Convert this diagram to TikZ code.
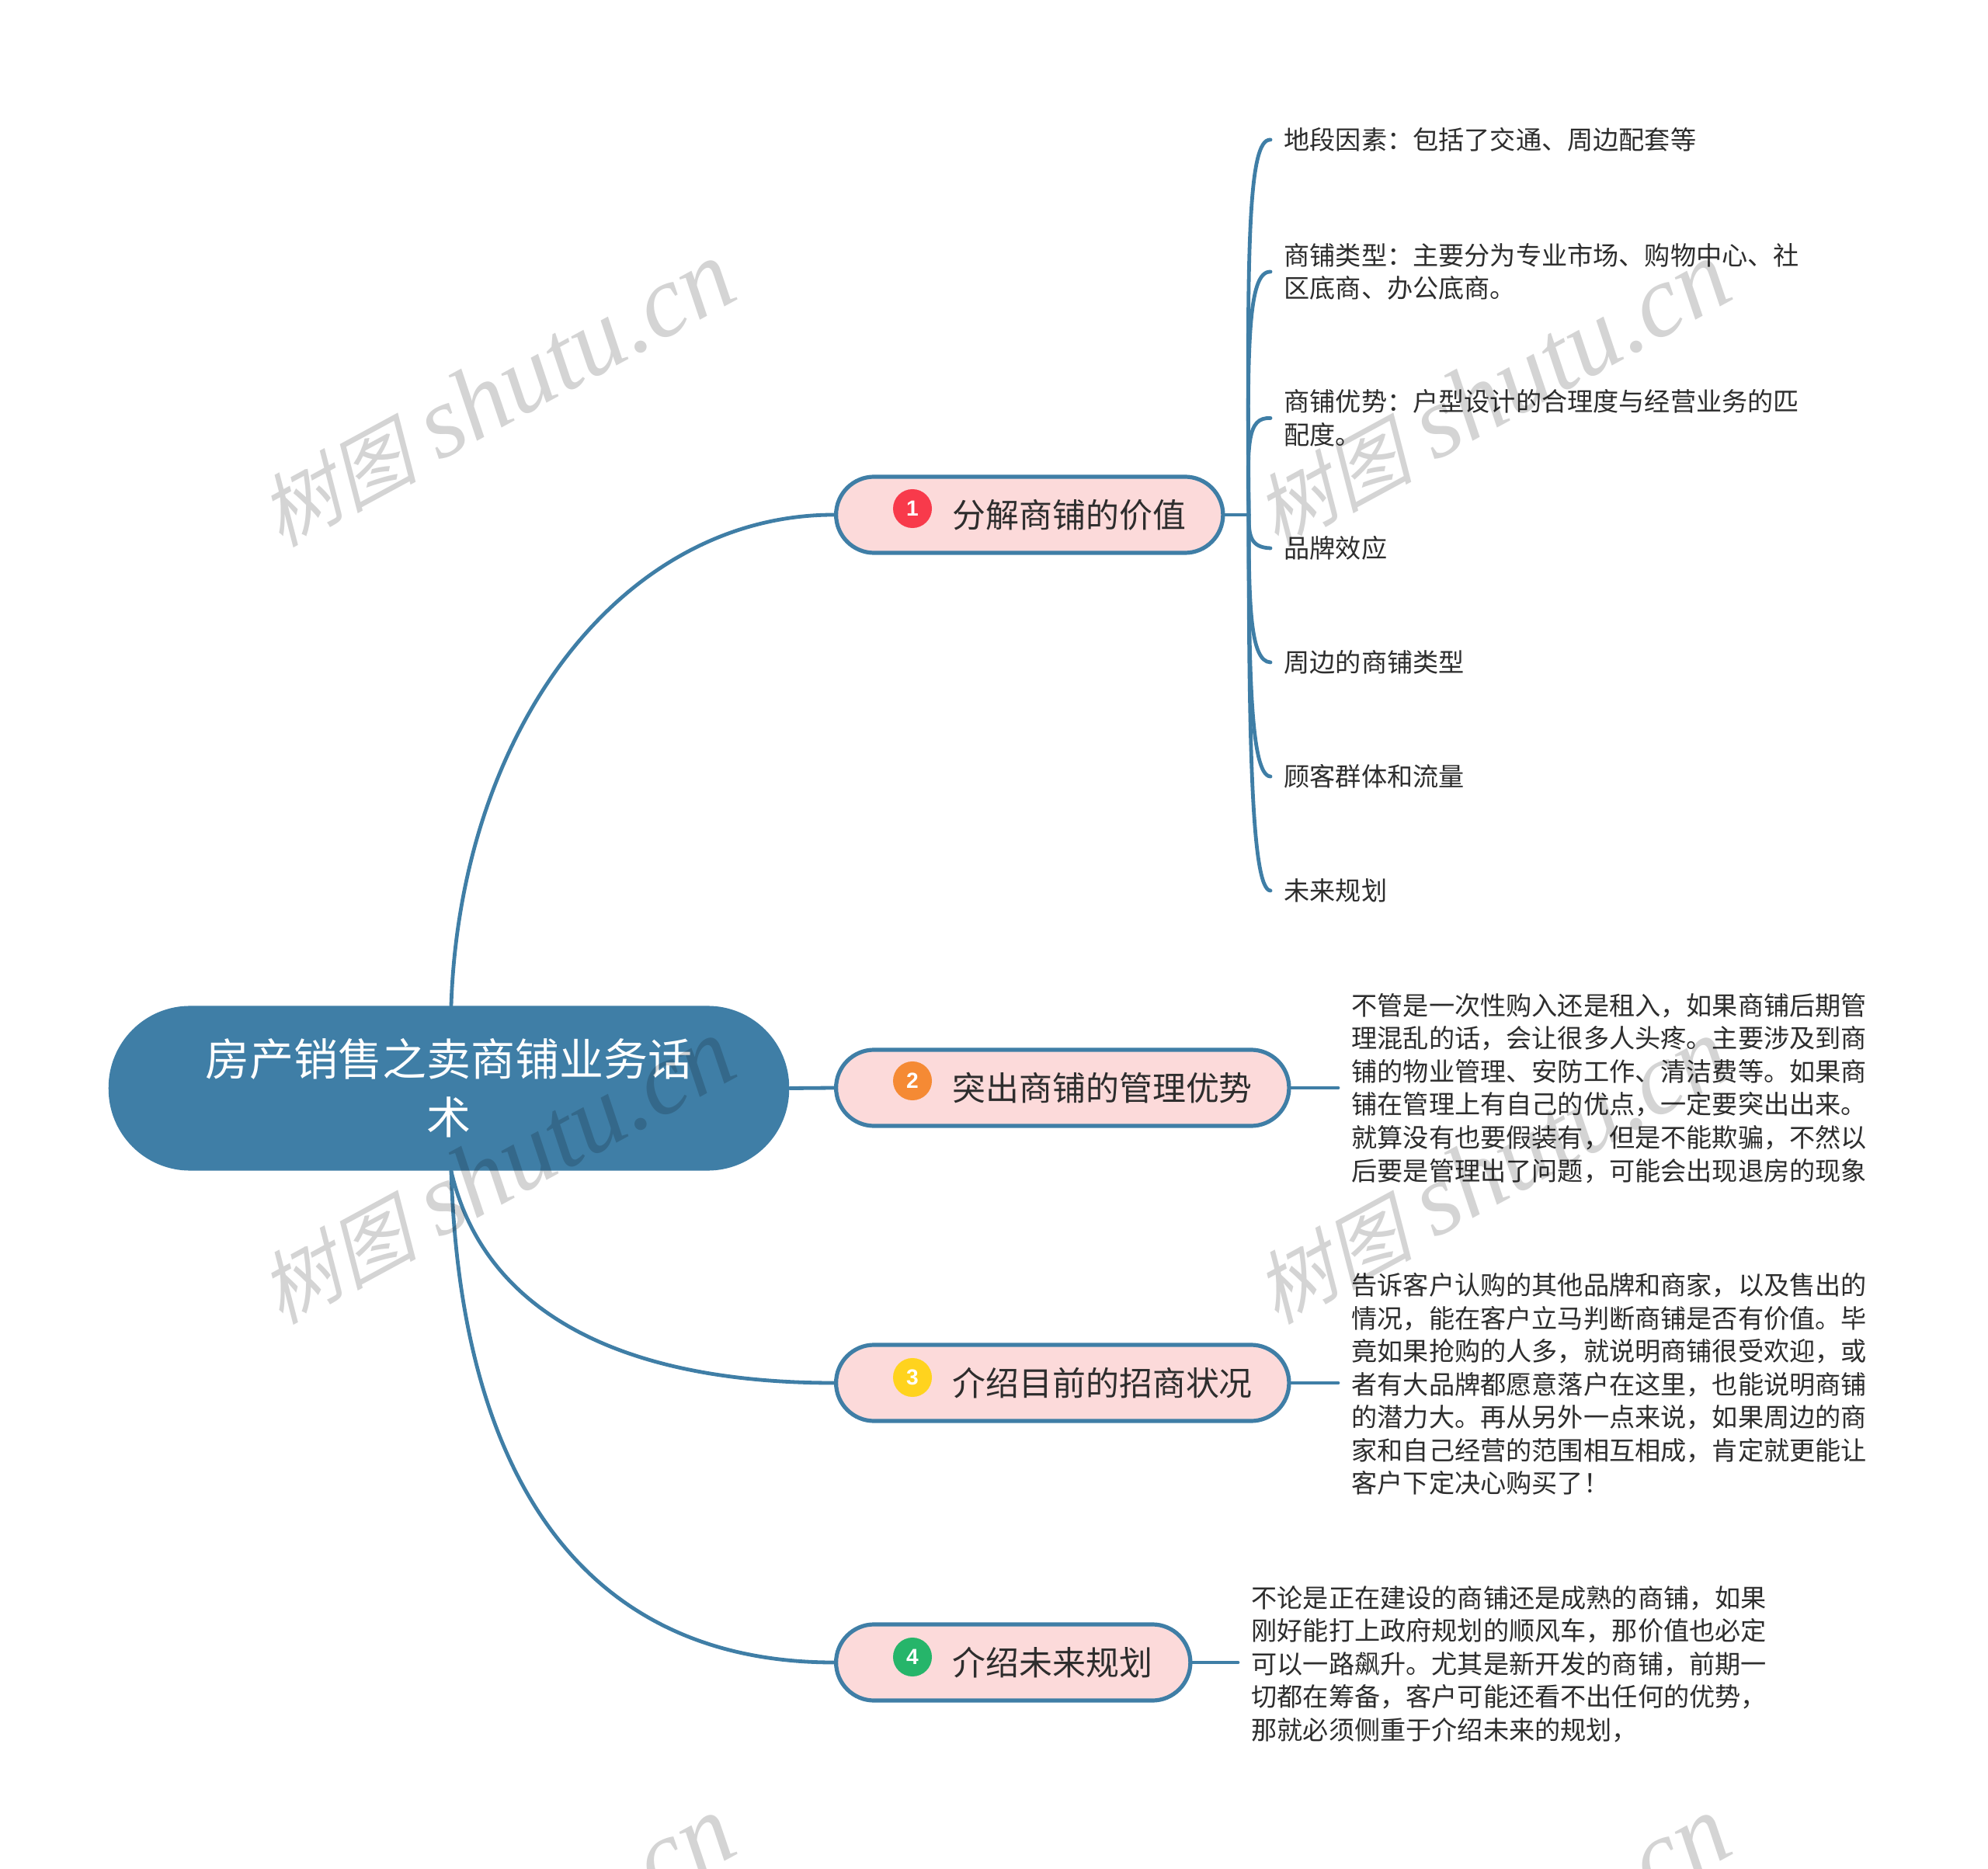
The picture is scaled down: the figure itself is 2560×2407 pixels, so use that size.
\documentclass[tikz,border=0pt]{standalone}
\usepackage{fontspec}
\newfontfamily\cjk{Noto Sans CJK SC}
\newfontfamily\wmcjk[FakeSlant=0.25]{Noto Sans CJK SC}
\newfontfamily\wmlat{Liberation Serif}[ItalicFont={Liberation Serif Italic}]
\newfontfamily\digitfont{Liberation Sans}
\definecolor{mainblue}{RGB}{63,126,166}
\definecolor{pinkfill}{RGB}{252,218,218}
\definecolor{inkdark}{RGB}{45,45,45}
\tikzset{
  con/.style={draw=mainblue,line width=0.048cm,line cap=round},
  rootbox/.style={rectangle,rounded corners=1.05cm,fill=mainblue,text=white,align=center,inner sep=0pt,
    minimum width=8.76cm,minimum height=2.12cm,font=\cjk\fontsize{16.2}{21.3}\selectfont},
  branchbox/.style={rectangle,rounded corners=0.49cm,fill=pinkfill,draw=mainblue,line width=0.052cm,
    text=inkdark,align=left,inner xsep=0pt,inner ysep=0pt,minimum height=0.98cm,anchor=west,
    font=\cjk\fontsize{12.2}{15}\selectfont},
  leaftext/.style={anchor=west,text=inkdark,align=left,inner xsep=4.8pt,inner ysep=0pt,
    font=\cjk\fontsize{9.43}{12.09}\selectfont},
  iconball/.style={circle,inner sep=0pt,minimum size=0.5cm,text=white,
    font=\digitfont\bfseries\fontsize{8}{8}\selectfont},
  wmark/.style={anchor=base west,rotate=28.5,inner sep=0pt,text=black,text opacity=0.17}
}
\newcommand{\wmtext}{{\wmcjk\fontsize{29}{29}\selectfont 树图}\hspace{8pt}{\wmlat\itshape\fontsize{37.5}{37.5}\selectfont shutu.cn}}
\begin{document}
\begin{tikzpicture}[x=0.01cm,y=-0.01cm]
\useasboundingbox (0,0) rectangle (2560,2407);
\fill[white] (0,0) rectangle (2560,2407);

% root
\node[rootbox] (root) at (578,1401.5) {房产销售之卖商铺业务话\\术};

% branches
\node[branchbox,text width=4.98cm] (b1) at (1074,663) {\hspace*{1.5cm}分解商铺的价值};
\node[branchbox,text width=5.83cm] (b2) at (1074,1401) {\hspace*{1.5cm}突出商铺的管理优势};
\node[branchbox,text width=5.83cm] (b3) at (1074,1781) {\hspace*{1.5cm}介绍目前的招商状况};
\node[branchbox,text width=4.56cm] (b4) at (1074,2141) {\hspace*{1.5cm}介绍未来规划};

% icons
\node[iconball,fill={rgb,255:red,248;green,58;blue,75}] (i1) at (1175,655) {1};
\node[iconball,fill={rgb,255:red,245;green,138;blue,52}] (i2) at (1175,1392) {2};
\node[iconball,fill={rgb,255:red,255;green,211;blue,30}] (i3) at (1175,1774) {3};
\node[iconball,fill={rgb,255:red,38;green,181;blue,106}] (i4) at (1175,2134) {4};

% leaves
\node[leaftext] (l1) at (1636,180) {地段因素：包括了交通、周边配套等};
\node[leaftext] (l2) at (1636,350) {商铺类型：主要分为专业市场、购物中心、社\\区底商、办公底商。};
\node[leaftext] (l3) at (1636,538.5) {商铺优势：户型设计的合理度与经营业务的匹\\配度。};
\node[leaftext] (l4) at (1636,706) {品牌效应};
\node[leaftext] (l5) at (1636,853) {周边的商铺类型};
\node[leaftext] (l6) at (1636,1000) {顾客群体和流量};
\node[leaftext] (l7) at (1636,1147) {未来规划};

% notes
\node[leaftext] (n2) at (1723,1401.5) {不管是一次性购入还是租入，如果商铺后期管\\理混乱的话，会让很多人头疼。主要涉及到商\\铺的物业管理、安防工作、清洁费等。如果商\\铺在管理上有自己的优点，一定要突出出来。\\就算没有也要假装有，但是不能欺骗，不然以\\后要是管理出了问题，可能会出现退房的现象};
\node[leaftext] (n3) at (1723,1782.5) {告诉客户认购的其他品牌和商家，以及售出的\\情况，能在客户立马判断商铺是否有价值。毕\\竟如果抢购的人多，就说明商铺很受欢迎，或\\者有大品牌都愿意落户在这里，也能说明商铺\\的潜力大。再从另外一点来说，如果周边的商\\家和自己经营的范围相互相成，肯定就更能让\\客户下定决心购买了！};
\node[leaftext] (n4) at (1594,2143) {不论是正在建设的商铺还是成熟的商铺，如果\\刚好能打上政府规划的顺风车，那价值也必定\\可以一路飙升。尤其是新开发的商铺，前期一\\切都在筹备，客户可能还看不出任何的优势，\\那就必须侧重于介绍未来的规划，};

% connectors root to branches
\coordinate (rn) at ([xshift=0.03cm]root.north);
\coordinate (rs) at ([xshift=0.03cm]root.south);
\draw[con] (rn) .. controls (593,940) and (800,663) .. (b1.west);
\draw[con] (root.east) -- (b2.west);
\draw[con] (rs) .. controls (623,1690) and (800,1781) .. (b3.west);
\draw[con] (rs) .. controls (593,1900) and (750,2141) .. (b4.west);

% branch to leaves
\coordinate (hub) at (1608,663);
\draw[con] (b1.east) -- (hub);
\draw[con] (hub) .. controls (1606,330) and (1606,178) .. (l1.west);
\draw[con] (hub) .. controls (1606,450) and (1606,349) .. (l2.west);
\draw[con] (hub) .. controls (1606,570) and (1606,537) .. (l3.west);
\draw[con] (hub) .. controls (1608,690) and (1610,705) .. (l4.west);
\draw[con] (hub) .. controls (1608,780) and (1610,852) .. (l5.west);
\draw[con] (hub) .. controls (1608,860) and (1610,999) .. (l6.west);
\draw[con] (hub) .. controls (1608,960) and (1612,1146) .. (l7.west);

% branch to notes
\draw[con] (b2.east) -- (n2.west |- b2.east);
\draw[con] (b3.east) -- (n3.west |- b3.east);
\draw[con] (b4.east) -- (n4.west |- b4.east);

% watermark
\begin{scope}
\clip (0,0) rectangle (2560,2407);
\node[wmark] (w1) at (361,706) {\wmtext};
\node[wmark] (w2) at (1643,706) {\wmtext};
\node[wmark] (w3) at (361,1707) {\wmtext};
\node[wmark] (w4) at (1643,1707) {\wmtext};
\node[wmark] (w5) at (361,2708) {\wmtext};
\node[wmark] (w6) at (1643,2708) {\wmtext};
\end{scope}
\end{tikzpicture}
\end{document}
